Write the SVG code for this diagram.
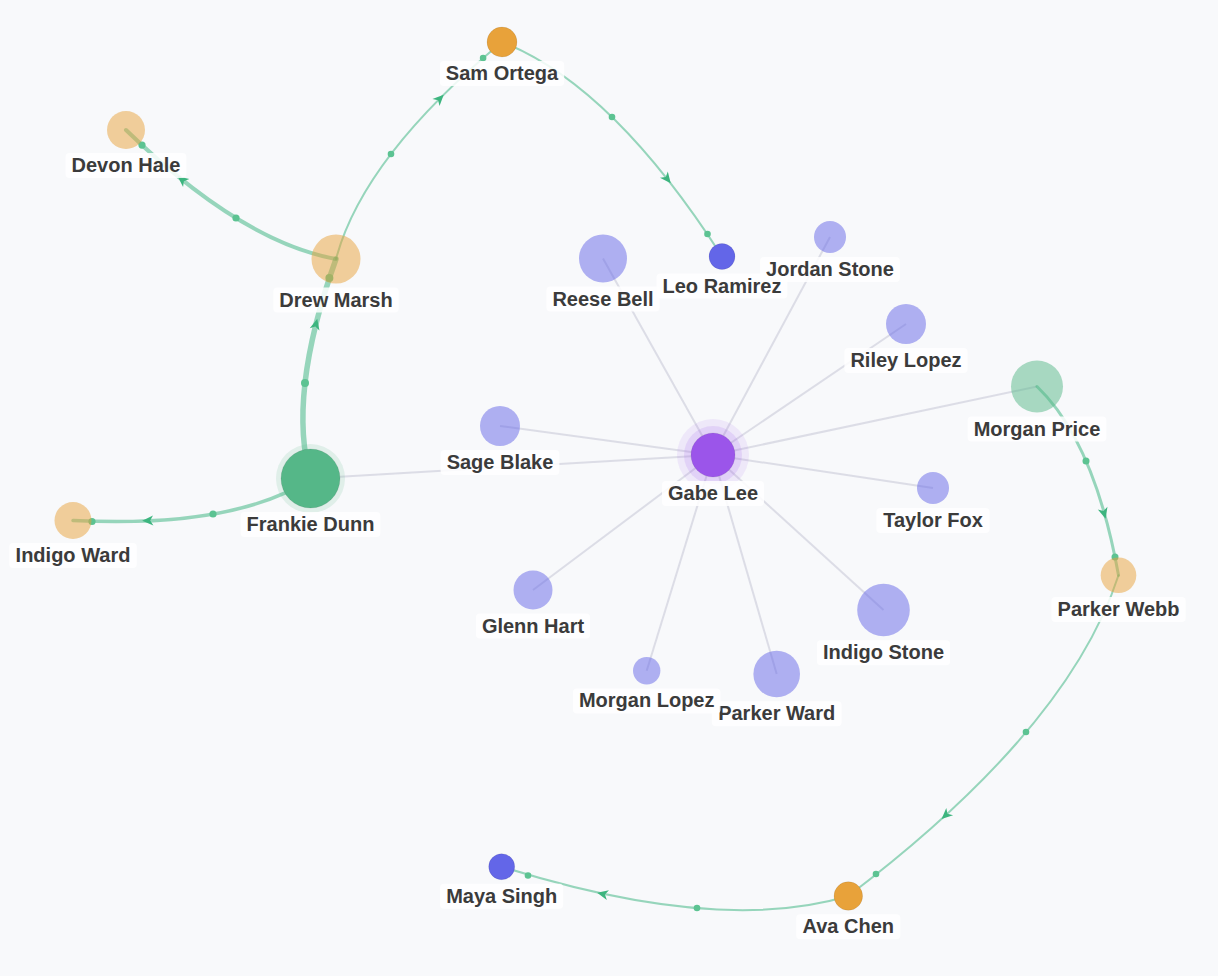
<svg xmlns="http://www.w3.org/2000/svg" xmlns:xlink="http://www.w3.org/1999/xlink" width="1218" height="976" viewBox="0 0 1218 976">
<defs>
<style>
.g{stroke:#c9c9d9;stroke-opacity:0.6;stroke-width:2;fill:none}
.e{stroke:#34b27b;stroke-opacity:0.5;fill:none;stroke-linecap:round}
.d{fill:#5cc392}
.a{fill:#3db57f}
.lb{fill:#ffffff;fill-opacity:0.85}
.t{font-family:"Liberation Sans",Arial,Helvetica,sans-serif;font-weight:bold;font-size:20px;fill:#3b3b3b;text-anchor:middle}
.or{fill:#e8a23a}
.ind{fill:#6366e8}
.pu{fill:#9b55ea}
.gr{fill:#55b788}
.f{fill-opacity:0.5}
.n{stroke:#000;stroke-opacity:0.08;stroke-width:1}
</style>
<polygon id="arr" points="6,0 -5,-5 -2,0 -5,5"/>
</defs>
<rect width="1218" height="976" fill="#f8f9fb"/>
<g id="connectors">
<line class="g" x1="713" y1="455" x2="603" y2="258.5"/>
<line class="g" x1="713" y1="455" x2="830" y2="237"/>
<line class="g" x1="713" y1="455" x2="906" y2="324"/>
<line class="g" x1="713" y1="455" x2="1037" y2="386.5"/>
<line class="g" x1="713" y1="455" x2="500" y2="426"/>
<line class="g" x1="713" y1="455" x2="933" y2="488"/>
<line class="g" x1="713" y1="455" x2="310.5" y2="478.5"/>
<line class="g" x1="713" y1="455" x2="533" y2="590"/>
<line class="g" x1="713" y1="455" x2="883.5" y2="610"/>
<line class="g" x1="713" y1="455" x2="646.7" y2="670.7"/>
<line class="g" x1="713" y1="455" x2="776.7" y2="674"/>

<path class="e" style="stroke-width:5.5" d="M311,479 Q286.5,397 336,259"/>
<circle class="d" cx="305" cy="383" r="4"/>
<use href="#arr" class="a" transform="translate(315.8,324.5) rotate(-76)"/>
<circle class="d" cx="329.4" cy="278" r="4"/>

<path class="e" style="stroke-width:2" d="M336,259 Q363,157.5 502,42"/>
<circle class="d" cx="391" cy="154" r="3.3"/>
<use href="#arr" class="a" transform="translate(439.5,98.9) rotate(-45.3)"/>
<circle class="d" cx="483.1" cy="58.1" r="3.3"/>

<path class="e" style="stroke-width:4" d="M336,259 Q241,241.5 126,130"/>
<circle class="d" cx="236" cy="218" r="3.6"/>
<use href="#arr" class="a" transform="translate(182.3,179.9) rotate(-141.3)"/>
<circle class="d" cx="142" cy="145.1" r="3.6"/>

<path class="e" style="stroke-width:2" d="M502,42 Q612,85 722,256.5"/>
<circle class="d" cx="612" cy="117" r="3.3"/>
<use href="#arr" class="a" transform="translate(667,178.5) rotate(51.6)"/>
<circle class="d" cx="707.5" cy="234" r="3.3"/>

<path class="e" style="stroke-width:3.5" d="M311,479 Q234,528.5 73,520.5"/>
<circle class="d" cx="213" cy="514" r="3.6"/>
<use href="#arr" class="a" transform="translate(148.2,520.6) rotate(177.5)"/>
<circle class="d" cx="92" cy="521.5" r="3.6"/>

<path class="e" style="stroke-width:3" d="M1037,386.5 Q1094.5,441.5 1118.5,575.3"/>
<circle class="d" cx="1086" cy="461" r="3.5"/>
<use href="#arr" class="a" transform="translate(1104,513) rotate(74.3)"/>
<circle class="d" cx="1115" cy="557" r="3.5"/>

<path class="e" style="stroke-width:2" d="M1118.5,575.3 Q1069,728.5 848.3,896"/>
<circle class="d" cx="1026" cy="732" r="3.3"/>
<use href="#arr" class="a" transform="translate(946,815) rotate(137.3)"/>
<circle class="d" cx="876" cy="874" r="3.3"/>

<path class="e" style="stroke-width:2" d="M848.3,896 Q719,935 501.7,866.7"/>
<circle class="d" cx="697" cy="908" r="3.3"/>
<use href="#arr" class="a" transform="translate(603,894) rotate(-167.8)"/>
<circle class="d" cx="528" cy="875.5" r="3.3"/>
</g>

<g id="node-reese-bell"><circle class="ind f" cx="603" cy="258.5" r="24"/><rect class="lb" x="546.4" y="286.5" width="113.2" height="25" rx="4"/><text class="t" x="603" y="305.5">Reese Bell</text></g>
<g id="node-sage-blake"><circle class="ind f" cx="500" cy="426" r="20"/><rect class="lb" x="440.6" y="450" width="118.8" height="25" rx="4"/><text class="t" x="500" y="469">Sage Blake</text></g>
<g id="node-riley-lopez"><circle class="ind f" cx="906" cy="324" r="20"/><rect class="lb" x="844.4" y="348" width="123.2" height="25" rx="4"/><text class="t" x="906" y="367">Riley Lopez</text></g>
<g id="node-taylor-fox"><circle class="ind f" cx="933" cy="488" r="16"/><rect class="lb" x="876.4" y="508" width="113.2" height="25" rx="4"/><text class="t" x="933" y="527">Taylor Fox</text></g>
<g id="node-glenn-hart"><circle class="ind f" cx="533" cy="590" r="19.5"/><rect class="lb" x="475.9" y="613.5" width="114.2" height="25" rx="4"/><text class="t" x="533" y="632.5">Glenn Hart</text></g>
<g id="node-indigo-stone"><circle class="ind f" cx="883.5" cy="610" r="26.3"/><rect class="lb" x="816.9" y="640.3" width="133.2" height="25" rx="4"/><text class="t" x="883.5" y="659.3">Indigo Stone</text></g>
<g id="node-parker-ward"><circle class="ind f" cx="776.7" cy="674" r="23.3"/><rect class="lb" x="711.8" y="701.3" width="129.8" height="25" rx="4"/><text class="t" x="776.7" y="720.3">Parker Ward</text></g>
<g id="node-morgan-lopez"><circle class="ind f" cx="646.7" cy="670.7" r="13.7"/><rect class="lb" x="572.9" y="688.4" width="147.6" height="25" rx="4"/><text class="t" x="646.7" y="707.4">Morgan Lopez</text></g>
<g id="node-morgan-price"><circle class="gr f" cx="1037" cy="386.5" r="26"/><rect class="lb" x="967.6" y="416.5" width="138.8" height="25" rx="4"/><text class="t" x="1037" y="435.5">Morgan Price</text></g>
<g id="node-leo-ramirez"><circle class="ind n" cx="722" cy="256.5" r="13"/><rect class="lb" x="656.5" y="273.5" width="130.9" height="25" rx="4"/><text class="t" x="722" y="292.5">Leo Ramirez</text></g>
<g id="node-jordan-stone"><circle class="ind f" cx="830" cy="237" r="16"/><rect class="lb" x="760.1" y="257" width="139.8" height="25" rx="4"/><text class="t" x="830" y="276">Jordan Stone</text></g>
<g id="node-gabe-lee"><circle class="pu" cx="713" cy="455" r="36" fill-opacity="0.1"/><circle class="pu" cx="713" cy="455" r="29" fill-opacity="0.15"/><circle class="pu n" cx="713" cy="455" r="22"/><rect class="lb" x="662" y="481" width="102" height="25" rx="4"/><text class="t" x="713" y="500">Gabe Lee</text></g>
<g id="node-frankie-dunn"><circle class="gr" cx="310.5" cy="478.5" r="34.5" fill-opacity="0.15"/><circle class="gr n" cx="310.5" cy="478.5" r="29.5"/><rect class="lb" x="240.6" y="512" width="139.8" height="25" rx="4"/><text class="t" x="310.5" y="531">Frankie Dunn</text></g>
<g id="node-drew-marsh"><circle class="or f" cx="336" cy="259" r="24.5"/><rect class="lb" x="273.3" y="287.5" width="125.4" height="25" rx="4"/><text class="t" x="336" y="306.5">Drew Marsh</text></g>
<g id="node-devon-hale"><circle class="or f" cx="126" cy="130" r="19"/><rect class="lb" x="65.5" y="153" width="120.9" height="25" rx="4"/><text class="t" x="126" y="172">Devon Hale</text></g>
<g id="node-sam-ortega"><circle class="or n" cx="502" cy="42" r="15"/><rect class="lb" x="439.9" y="61" width="124.3" height="25" rx="4"/><text class="t" x="502" y="80">Sam Ortega</text></g>
<g id="node-indigo-ward"><circle class="or f" cx="73" cy="520.5" r="18.5"/><rect class="lb" x="9.2" y="543" width="127.6" height="25" rx="4"/><text class="t" x="73" y="562">Indigo Ward</text></g>
<g id="node-parker-webb"><circle class="or f" cx="1118.5" cy="575.3" r="17.8"/><rect class="lb" x="1051.4" y="597" width="134.3" height="25" rx="4"/><text class="t" x="1118.5" y="616">Parker Webb</text></g>
<g id="node-ava-chen"><circle class="or n" cx="848.3" cy="896" r="14.3"/><rect class="lb" x="796.2" y="914.3" width="104.2" height="25" rx="4"/><text class="t" x="848.3" y="933.3">Ava Chen</text></g>
<g id="node-maya-singh"><circle class="ind n" cx="501.7" cy="866.7" r="13"/><rect class="lb" x="440.1" y="883.7" width="123.1" height="25" rx="4"/><text class="t" x="501.7" y="902.7">Maya Singh</text></g>
</svg>
